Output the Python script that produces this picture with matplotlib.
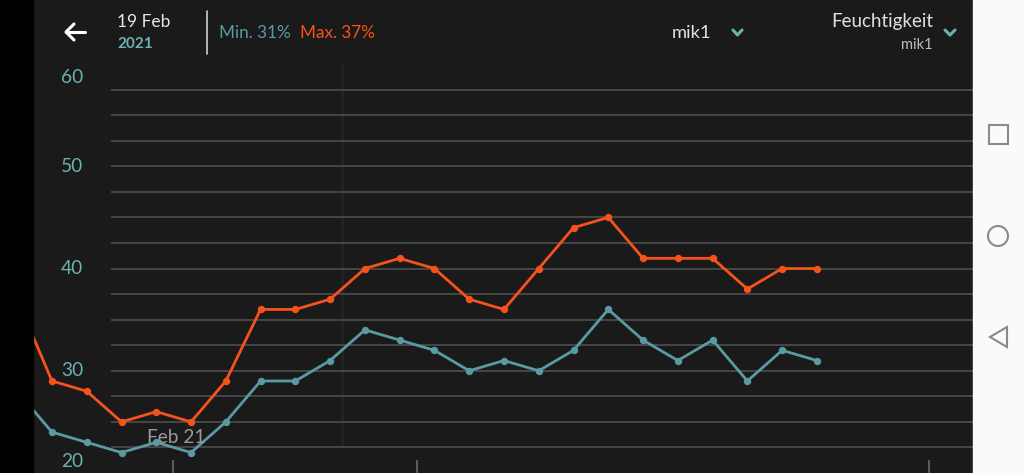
import matplotlib
matplotlib.use("Agg")
import matplotlib.pyplot as plt
from matplotlib.lines import Line2D
from matplotlib.patches import Rectangle, Polygon, Ellipse

# ---- data ----
max_humidity = [37, 29, 28, 25, 26, 25, 29, 36, 36, 37, 40, 41, 40, 37, 36, 40, 44, 45, 41, 41, 41, 38, 40, 40]
min_humidity = [28, 24, 23, 22, 23, 22, 25, 29, 29, 31, 34, 33, 32, 30, 31, 30, 32, 36, 33, 31, 33, 29, 32, 31]
y_tick_values = [60, 50, 40, 30, 20]
x_label = "Feb 21"
header_date = "19 Feb"
header_year = "2021"
min_text = "Min. 31%"
max_text = "Max. 37%"
sensor = "mik1"
metric = "Feuchtigkeit"

W, H = 1024, 473
BG = "#1a1a1a"
ORANGE = "#f5521c"
TEAL = "#5a9aa2"
TEAL_TXT = "#6ab2b0"
GRID = "#474747"
FONT = ["Lato", "DejaVu Sans"]

fig = plt.figure(figsize=(W / 100, H / 100), dpi=100)
fig.patch.set_facecolor(BG)

def fx(x):
    return x / W

def fy(y):
    return 1 - y / H

# plot axes: pixel x 33..973, y 64..473 (value 60..20)
ax_left, ax_right = 33, 973
ax_top, ax_bot = 64.1, 473
ax = fig.add_axes([fx(ax_left), fy(ax_bot), (ax_right - ax_left) / W, (ax_bot - ax_top) / H])
ax.set_facecolor(BG)
for s in ax.spines.values():
    s.set_visible(False)
ax.set_xticks([])
ax.set_yticks([])
ax.set_ylim(20, 60)
x0_px, step_px = 17.2, 34.77
ax.set_xlim((ax_left - x0_px) / step_px, (ax_right - x0_px) / step_px)

xs = list(range(len(max_humidity)))

# faint vertical band
ax.plot([9.33, 9.33], [22.5, 60], color="#222222", lw=2.5, zorder=0)

# gridlines every 2.5 units, starting at pixel x=112
grid_start = (112 - ax_left) / (ax_right - ax_left)
v = 22.5
while v < 58:
    ax.axhline(v, xmin=grid_start, xmax=1, color=GRID, lw=1.4, zorder=1)
    v += 2.5

# day ticks at bottom
for t in [4.49, 11.49, 26.22]:
    ax.plot([t, t], [20, 21.25], color="#5a5a5a", lw=1.5, zorder=1, solid_capstyle="butt")

ax.plot(xs, max_humidity, color=ORANGE, lw=2.0, marker="o", ms=4.3, zorder=3)
ax.plot(xs, min_humidity, color=TEAL, lw=2.0, marker="o", ms=4.3, zorder=3)

# y labels
label_x = (72 - ax_left) / (ax_right - ax_left)
offsets = {60: -10.0, 20: 8.0}
for val in y_tick_values:
    ax.annotate(str(val), xy=(label_x, val), xycoords=("axes fraction", "data"),
                xytext=(0, offsets.get(val, 0)), textcoords="offset points",
                ha="center", va="center", color=TEAL_TXT, fontsize=13.8,
                family=FONT, zorder=4)

# x label
ax.annotate(x_label, xy=(4.49, 23.5), xycoords="data", xytext=(2, 0), textcoords="offset points",
            ha="center", va="center", color="#9a9a9a", fontsize=13.8, family=FONT, zorder=4)

# ---- header ----
fig.text(fx(117), fy(22), header_date, color="#e6e6e6", fontsize=12.5, family=FONT, ha="left", va="center")
fig.text(fx(117), fy(44), header_year, color=TEAL_TXT, fontsize=11, fontweight="bold", family=FONT, ha="left", va="center")
fig.text(fx(219), fy(33), min_text, color=TEAL, fontsize=12.3, family=FONT, ha="left", va="center")
fig.text(fx(300), fy(33), max_text, color=ORANGE, fontsize=12.3, family=FONT, ha="left", va="center")
fig.text(fx(711), fy(33), sensor, color="#e0e0e0", fontsize=13.2, family=FONT, ha="right", va="center")
fig.text(fx(933), fy(21), metric, color="#e0e0e0", fontsize=13.5, family=FONT, ha="right", va="center")
fig.text(fx(933), fy(45), sensor, color="#bdbdbd", fontsize=10.5, family=FONT, ha="right", va="center")

def fline(xs_px, ys_px, color, lw):
    fig.add_artist(Line2D([fx(x) for x in xs_px], [fy(y) for y in ys_px], color=color, lw=lw,
                          solid_capstyle="round", solid_joinstyle="round"))

# back arrow
fline([66, 85], [32, 32], "white", 2.2)
fline([74, 66, 74], [24, 32, 40], "white", 2.2)
# divider
fline([207, 207], [11, 54], "#cfcfcf", 1.2)
# chevrons
fline([733, 737.5, 742], [30, 35, 30], TEAL_TXT, 2.2)
fline([945, 950, 955], [30, 35, 30], TEAL_TXT, 2.2)

# ---- device frame ----
fig.add_artist(Rectangle((0, 0), fx(33), 1, transform=fig.transFigure, color="black", zorder=10))
fig.add_artist(Rectangle((fx(973), 0), 1 - fx(973), 1, transform=fig.transFigure, color="#fafafa", zorder=10))
NAV = "#8a8a8a"
fig.add_artist(Rectangle((fx(989), fy(144)), fx(19), 19 / H, transform=fig.transFigure, fill=False,
                         ec=NAV, lw=1.5, zorder=11))
fig.add_artist(Ellipse((fx(998), fy(236)), 20 / W, 20 / H, transform=fig.transFigure, fill=False,
                       ec=NAV, lw=1.5, zorder=11))
fig.add_artist(Polygon([(fx(990), fy(337)), (fx(1007), fy(327)), (fx(1007), fy(347))], closed=True,
                       transform=fig.transFigure, fill=False, ec=NAV, lw=1.5, zorder=11))

fig.savefig("out.png", dpi=100, facecolor=fig.get_facecolor())
